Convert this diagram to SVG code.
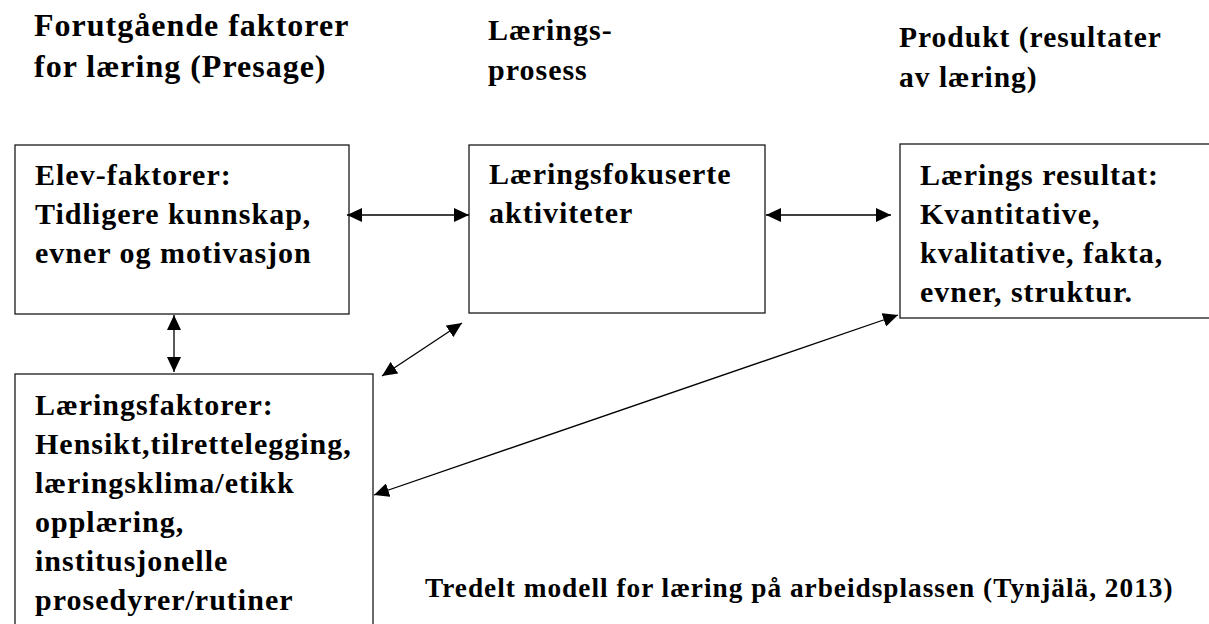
<svg xmlns="http://www.w3.org/2000/svg" width="1209" height="624" viewBox="0 0 1209 624">
<style>
text { font-family: 'Liberation Serif', 'Times New Roman', serif; font-weight: bold; fill: #000; letter-spacing: 1px; }
.hdr { font-size: 32px; }
.hdr2 { font-size: 30px; }
.hdr3 { font-size: 29.5px; }
.box { font-size: 30px; }
.cap { font-size: 27.3px; }
rect { fill: #fff; stroke: #1a1a1a; stroke-width: 1.3; }
.conn line { stroke: #000; stroke-width: 1.3; marker-start: url(#ah); marker-end: url(#ah); }
</style>
<defs>
<marker id="ah" markerUnits="userSpaceOnUse" markerWidth="15" markerHeight="14" refX="15" refY="7" orient="auto-start-reverse">
<path d="M0,0 L15,7 L0,14 z" fill="#000"/>
</marker>
</defs>
<rect x="0" y="0" width="1209" height="624" style="stroke:none"/>
<g id="headers">
<text class="hdr" x="34" y="36">Forutgående faktorer</text>
<text class="hdr" x="34" y="77">for læring (Presage)</text>
<text class="hdr2" x="488" y="40">Lærings-</text>
<text class="hdr2" x="488" y="80">prosess</text>
<text class="hdr3" x="899" y="47">Produkt (resultater</text>
<text class="hdr3" x="899" y="87">av læring)</text>
</g>
<g id="elev">
<rect x="15" y="145" width="334" height="169"/>
<text class="box" x="35" y="185">Elev-faktorer:</text>
<text class="box" x="35" y="224">Tidligere kunnskap,</text>
<text class="box" x="35" y="263">evner og motivasjon</text>
</g>
<g id="aktiviteter">
<rect x="469" y="145" width="296" height="168"/>
<text class="box" x="489" y="184">Læringsfokuserte</text>
<text class="box" x="489" y="223">aktiviteter</text>
</g>
<g id="resultat">
<rect x="900" y="144" width="320" height="174"/>
<text class="box" x="920" y="185">Lærings resultat:</text>
<text class="box" x="920" y="224">Kvantitative,</text>
<text class="box" x="920" y="263">kvalitative, fakta,</text>
<text class="box" x="920" y="302">evner, struktur.</text>
</g>
<g id="laeringsfaktorer">
<rect x="15" y="374" width="358" height="260"/>
<text class="box" x="35" y="415">Læringsfaktorer:</text>
<text class="box" x="35" y="454">Hensikt,tilrettelegging,</text>
<text class="box" x="35" y="493">læringsklima/etikk</text>
<text class="box" x="35" y="532">opplæring,</text>
<text class="box" x="35" y="571">institusjonelle</text>
<text class="box" x="35" y="610">prosedyrer/rutiner</text>
</g>
<g class="conn" id="connectors">
<line x1="347" y1="215" x2="469" y2="215"/>
<line x1="766" y1="215" x2="891" y2="215"/>
<line x1="174" y1="315" x2="174" y2="372"/>
<line x1="462" y1="323" x2="382" y2="376"/>
<line x1="898" y1="315" x2="374" y2="495"/>
</g>
<g id="caption">
<text class="cap" x="425" y="597">Tredelt modell for læring på arbeidsplassen (Tynjälä, 2013)</text>
</g>
</svg>
